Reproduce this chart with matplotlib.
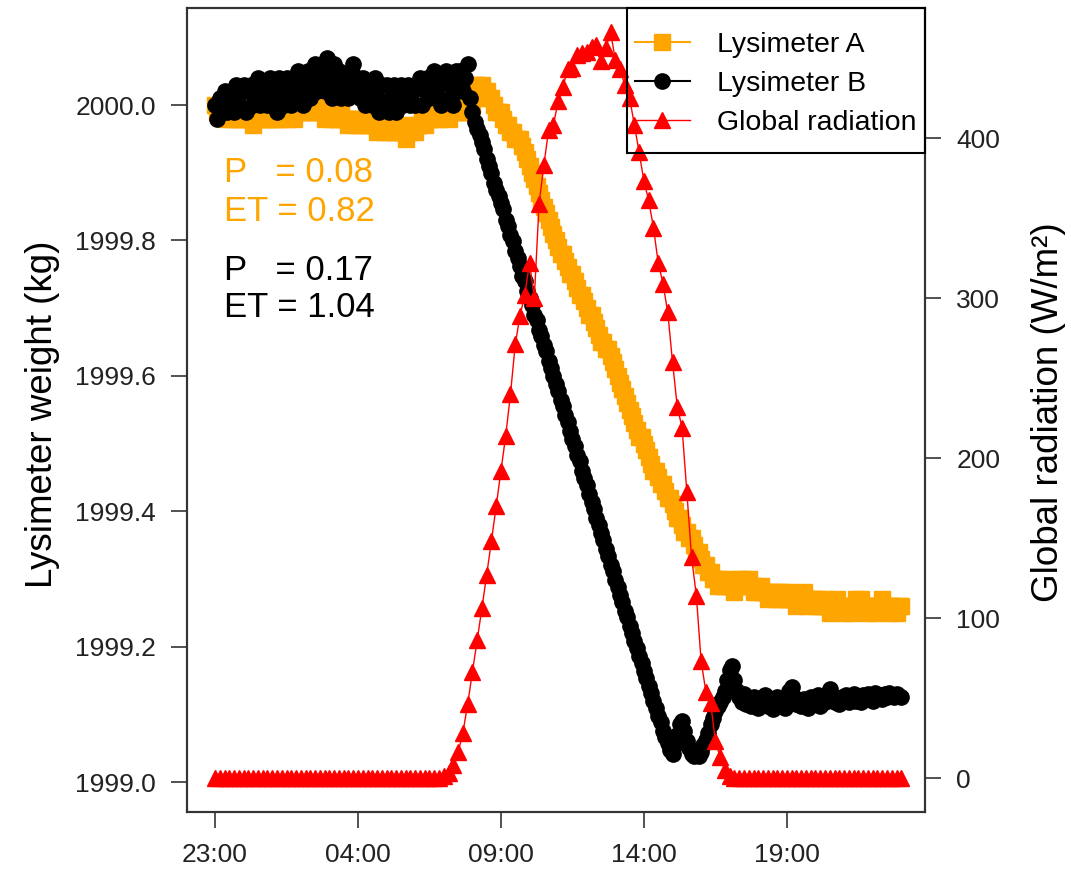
import matplotlib
matplotlib.use("Agg")
import matplotlib.pyplot as plt
from matplotlib.patches import Rectangle
import numpy as np

plt.rcParams['font.family'] = ['Liberation Sans', 'DejaVu Sans']

# sampling steps in minutes, every series starts at 23:00
lys_step_min = 5
rad_step_min = 10

# Lysimeter A weight (kg), one row per hour
weight_a = [
    2000.00, 1999.99, 2000.00, 1999.99, 1999.99, 1999.98, 1999.99, 1999.98, 1999.99, 1999.98, 1999.98, 1999.99,
    1999.98, 1999.98, 1999.99, 1999.98, 1999.97, 1999.98, 1999.98, 1999.99, 1999.98, 1999.98, 1999.99, 1999.98,
    1999.98, 1999.99, 1999.98, 1999.98, 1999.99, 1999.99, 1999.98, 1999.99, 1999.99, 1999.98, 1999.99, 1999.99,
    1999.99, 2000.00, 1999.99, 1999.99, 2000.00, 1999.99, 1999.99, 2000.00, 1999.99, 1999.99, 1999.98, 1999.99,
    1999.99, 1999.98, 1999.99, 1999.98, 1999.98, 1999.99, 1999.98, 1999.98, 1999.97, 1999.98, 1999.98, 1999.97,
    1999.98, 1999.97, 1999.98, 1999.97, 1999.97, 1999.98, 1999.97, 1999.97, 1999.96, 1999.97, 1999.97, 1999.96,
    1999.97, 1999.96, 1999.97, 1999.96, 1999.96, 1999.97, 1999.96, 1999.96, 1999.95, 1999.96, 1999.96, 1999.97,
    1999.96, 1999.97, 1999.97, 1999.98, 1999.97, 1999.98, 1999.98, 1999.99, 1999.98, 1999.99, 1999.98, 1999.99,
    1999.99, 1999.99, 1999.98, 1999.99, 1999.99, 2000.00, 1999.99, 1999.99, 2000.00, 1999.99, 1999.99, 2000.00,
    2000.00, 2000.03, 2000.03, 2000.02, 2000.03, 2000.02, 2000.02, 2000.01, 2000.01, 2000.00, 1999.99, 1999.99,
    1999.99, 1999.98, 1999.97, 1999.97, 1999.96, 1999.96, 1999.95, 1999.95, 1999.95, 1999.94, 1999.93, 1999.92,
    1999.91, 1999.90, 1999.89, 1999.88, 1999.87, 1999.86, 1999.85, 1999.84, 1999.83, 1999.82, 1999.81, 1999.80,
    1999.79, 1999.78, 1999.78, 1999.77, 1999.76, 1999.75, 1999.75, 1999.74, 1999.73, 1999.72, 1999.72, 1999.71,
    1999.70, 1999.69, 1999.69, 1999.68, 1999.67, 1999.66, 1999.65, 1999.65, 1999.64, 1999.64, 1999.63, 1999.62,
    1999.61, 1999.60, 1999.59, 1999.58, 1999.57, 1999.56, 1999.55, 1999.54, 1999.53, 1999.52, 1999.51, 1999.51,
    1999.50, 1999.49, 1999.48, 1999.47, 1999.46, 1999.46, 1999.45, 1999.44, 1999.44, 1999.43, 1999.42, 1999.42,
    1999.41, 1999.40, 1999.39, 1999.39, 1999.38, 1999.37, 1999.37, 1999.36, 1999.36, 1999.35, 1999.34, 1999.34,
    1999.33, 1999.32, 1999.32, 1999.31, 1999.31, 1999.30, 1999.30, 1999.29, 1999.30, 1999.29, 1999.29, 1999.30,
    1999.29, 1999.29, 1999.28, 1999.29, 1999.30, 1999.29, 1999.30, 1999.29, 1999.30, 1999.29, 1999.28, 1999.29,
    1999.28, 1999.29, 1999.28, 1999.28, 1999.27, 1999.28, 1999.28, 1999.27, 1999.28, 1999.27, 1999.28, 1999.27,
    1999.27, 1999.28, 1999.27, 1999.27, 1999.26, 1999.27, 1999.27, 1999.28, 1999.27, 1999.26, 1999.27, 1999.27,
    1999.26, 1999.27, 1999.26, 1999.26, 1999.27, 1999.26, 1999.25, 1999.26, 1999.26, 1999.27, 1999.26, 1999.26,
    1999.25, 1999.26, 1999.26, 1999.25, 1999.26, 1999.27, 1999.26, 1999.27, 1999.26, 1999.26, 1999.25, 1999.26,
    1999.26, 1999.25, 1999.26, 1999.26, 1999.27, 1999.26, 1999.26, 1999.25, 1999.26, 1999.26, 1999.25, 1999.26,
    1999.26,
]

# Lysimeter B weight (kg), one row per hour
weight_b = [
    2000.00, 1999.98, 2000.01, 1999.99, 2000.02, 1999.99, 2000.00, 2000.02, 1999.99, 2000.03, 2000.00, 2000.02,
    2000.03, 1999.99, 2000.02, 2000.03, 2000.00, 2000.02, 2000.04, 2000.00, 2000.01, 2000.03, 2000.00, 2000.04,
    2000.01, 2000.03, 1999.99, 2000.04, 2000.02, 2000.00, 2000.04, 2000.02, 2000.00, 2000.04, 2000.01, 2000.05,
    2000.02, 2000.00, 2000.04, 2000.05, 2000.01, 2000.03, 2000.06, 2000.02, 2000.04, 2000.06, 2000.02, 2000.07,
    2000.04, 2000.01, 2000.06, 2000.02, 2000.05, 2000.01, 2000.04, 2000.03, 2000.01, 2000.05, 2000.06, 2000.02,
    2000.04, 2000.01, 2000.04, 2000.00, 2000.03, 2000.02, 2000.00, 2000.04, 2000.01, 1999.99, 2000.03, 2000.00,
    2000.03, 1999.99, 2000.01, 2000.03, 1999.99, 2000.02, 2000.03, 2000.00, 2000.02, 2000.03, 2000.00, 2000.02,
    2000.00, 2000.03, 2000.04, 2000.00, 2000.02, 2000.04, 2000.01, 2000.03, 2000.05, 2000.01, 2000.03, 2000.00,
    2000.04, 2000.05, 2000.01, 2000.03, 2000.00, 2000.05, 2000.02, 2000.05, 2000.02, 2000.04, 2000.06, 2000.01,
    1999.990, 1999.975, 1999.965, 1999.955, 1999.945, 1999.935, 1999.920, 1999.910, 1999.900, 1999.885, 1999.875, 1999.865,
    1999.855, 1999.846, 1999.830, 1999.822, 1999.808, 1999.799, 1999.784, 1999.774, 1999.762, 1999.748, 1999.740, 1999.726,
    1999.715, 1999.705, 1999.690, 1999.682, 1999.668, 1999.659, 1999.645, 1999.636, 1999.622, 1999.612, 1999.600, 1999.588,
    1999.577, 1999.564, 1999.556, 1999.542, 1999.532, 1999.518, 1999.507, 1999.496, 1999.483, 1999.474, 1999.460, 1999.449,
    1999.438, 1999.426, 1999.414, 1999.404, 1999.390, 1999.380, 1999.368, 1999.357, 1999.344, 1999.334, 1999.321, 1999.311,
    1999.299, 1999.288, 1999.276, 1999.266, 1999.252, 1999.244, 1999.230, 1999.220, 1999.208, 1999.198, 1999.186, 1999.176,
    1999.164, 1999.154, 1999.142, 1999.132, 1999.120, 1999.110, 1999.098, 1999.088, 1999.076, 1999.066, 1999.058, 1999.048,
    1999.042, 1999.055, 1999.070, 1999.085, 1999.090, 1999.075, 1999.060, 1999.050, 1999.042, 1999.038, 1999.040, 1999.038,
    1999.045, 1999.055, 1999.062, 1999.072, 1999.085, 1999.095, 1999.105, 1999.112, 1999.118, 1999.125, 1999.135, 1999.150,
    1999.165, 1999.172, 1999.150, 1999.135, 1999.125, 1999.118, 1999.130, 1999.115, 1999.120, 1999.112, 1999.125, 1999.118,
    1999.110, 1999.122, 1999.115, 1999.128, 1999.112, 1999.120, 1999.108, 1999.118, 1999.125, 1999.115, 1999.122, 1999.110,
    1999.120, 1999.135, 1999.140, 1999.125, 1999.115, 1999.120, 1999.112, 1999.122, 1999.118, 1999.110, 1999.125, 1999.115,
    1999.120, 1999.128, 1999.112, 1999.122, 1999.118, 1999.130, 1999.138, 1999.125, 1999.118, 1999.122, 1999.115, 1999.125,
    1999.120, 1999.128, 1999.118, 1999.122, 1999.130, 1999.120, 1999.125, 1999.118, 1999.128, 1999.122, 1999.130, 1999.125,
    1999.120, 1999.132, 1999.125, 1999.128, 1999.122, 1999.130, 1999.126, 1999.132, 1999.128, 1999.125, 1999.130, 1999.127,
    1999.125,
]

# global radiation (W/m2), one row per two hours
radiation = [
    0, 0, 0, 0, 0, 0, 0, 0, 0, 0, 0, 0,
    0, 0, 0, 0, 0, 0, 0, 0, 0, 0, 0, 0,
    0, 0, 0, 0, 0, 0, 0, 0, 0, 0, 0, 0,
    0, 0, 0, 0, 0, 0, 0, 0, 0, 0, 0, 0,
    1, 3, 8, 16, 28, 46, 66, 86, 106, 127, 148, 170,
    192, 214, 240, 271, 289, 302, 322, 300, 359, 383, 405, 408,
    423, 432, 443, 444, 452, 453, 454, 457, 458, 448, 456, 466,
    449, 443, 433, 425, 408, 391, 373, 361, 344, 322, 309, 291,
    260, 232, 219, 179, 138, 114, 73, 54, 47, 23, 13, 5,
    1, 0, 0, 0, 0, 0, 0, 0, 0, 0, 0, 0,
    0, 0, 0, 0, 0, 0, 0, 0, 0, 0, 0, 0,
    0, 0, 0, 0, 0, 0, 0, 0, 0, 0, 0, 0,
    0,
]

tick_hours = [0, 5, 10, 15, 20]
tick_labels = ["23:00", "04:00", "09:00", "14:00", "19:00"]
weight_ticks = [1999.0, 1999.2, 1999.4, 1999.6, 1999.8, 2000.0]
rad_ticks = [0, 100, 200, 300, 400]

t_a = np.arange(len(weight_a)) * lys_step_min / 60
t_b = np.arange(len(weight_b)) * lys_step_min / 60
t_rad = np.arange(len(radiation)) * rad_step_min / 60

fig = plt.figure(figsize=(10.71, 8.76), dpi=100)
ax = fig.add_axes([187 / 1071, 64 / 876, 738 / 1071, 804 / 876])

la, = ax.plot(t_a, weight_a, color='orange', marker='s', ms=12, lw=1.5,
              label='Lysimeter A')
lb, = ax.plot(t_b, weight_b, color='black', marker='o', ms=11, lw=1.5,
              label='Lysimeter B')

ax.set_xlim(-0.98, 24.83)
ax.set_ylim(1998.9557, 2000.1433)
ax.set_xticks(tick_hours)
ax.set_xticklabels(tick_labels)
ax.set_yticks(weight_ticks)
ax.set_yticklabels([f"{v:.1f}" for v in weight_ticks])
ax.tick_params(axis='both', direction='out', length=11.5, width=1.3,
               color='#444444', labelcolor='#222222', labelsize=19, pad=11)
ax.set_ylabel('Lysimeter weight (kg)', fontsize=26.5)
ax.yaxis.set_label_coords(-0.172, 0.495)

# second axis for the radiation curve
ax2 = ax.twinx()
lr, = ax2.plot(t_rad, radiation, color='red', marker='^', ms=11, lw=1,
               label='Global radiation')
ax2.set_ylim(-21.25, 481.25)
ax2.set_yticks(rad_ticks)
ax2.tick_params(axis='y', direction='out', length=11.5, width=1.3,
                color='#444444', labelcolor='#222222', labelsize=19, pad=11)
ax2.set_ylabel('Global radiation (W/m²)', fontsize=26.5)
ax2.yaxis.set_label_coords(1.143, 0.4975)

for a in (ax, ax2):
    for sp in a.spines.values():
        sp.set_color('#333333')
        sp.set_linewidth(1.5)

# precipitation and evapotranspiration sums
sums = [(0.796, 'P   = 0.08', 'orange'), (0.7475, 'ET = 0.82', 'orange'),
        (0.674, 'P   = 0.17', 'black'), (0.627, 'ET = 1.04', 'black')]
for y, s, c in sums:
    ax.text(0.050, y, s, color=c, fontsize=25, transform=ax.transAxes,
            va='center', ha='left')

# legend box in the top right corner, entries placed inside it
ax2.add_patch(Rectangle((0.596, 0.8197), 0.404, 0.1803, transform=ax2.transAxes,
                        fill=False, ec='black', lw=1.5, clip_on=False, zorder=5))
ax2.legend([la, lb, lr], ['Lysimeter A', 'Lysimeter B', 'Global radiation'],
           loc='upper left', bbox_to_anchor=(0.607, 0.970), borderaxespad=0,
           frameon=False, fontsize=20.5, labelspacing=0.45,
           handlelength=1.93, handletextpad=0.95, borderpad=0)

fig.savefig('out.png', dpi=100)
